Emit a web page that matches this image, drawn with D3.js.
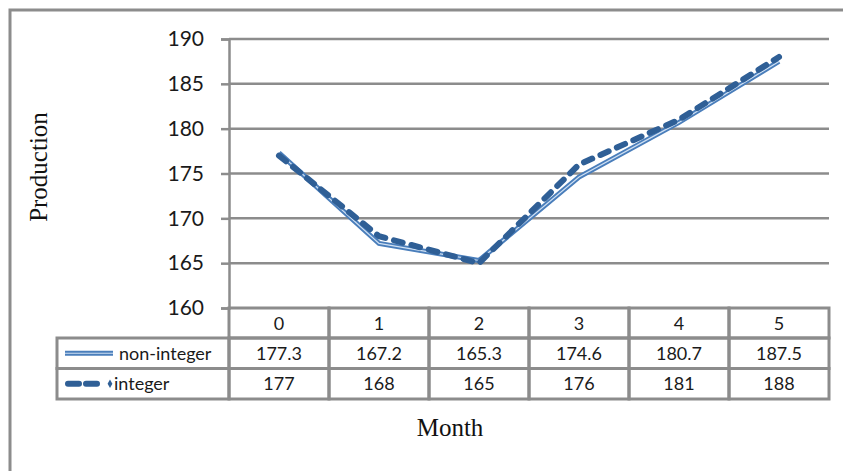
<!DOCTYPE html>
<html>
<head>
<meta charset="utf-8">
<script src="https://cdn.jsdelivr.net/npm/d3@7/dist/d3.min.js"></script>
<style>
  html, body { margin: 0; padding: 0; background: #fff; }
  svg { display: block; }
</style>
</head>
<body>
<script>
// Monthly production, two planning variants
const months = ["0", "1", "2", "3", "4", "5"];
const nonInteger = [177.3, 167.2, 165.3, 174.6, 180.7, 187.5];
const integer = [177, 168, 165, 176, 181, 188];
const yTicks = [160, 165, 170, 175, 180, 185, 190];
const seriesNames = ["non-integer", "integer"];

const W = 843, H = 471;
const svg = d3.select("body").append("svg").attr("width", W).attr("height", H);

const grid = "#8c8c8c";
const sans = "Lato, 'Open Sans', sans-serif";
const serif = "'Liberation Serif', 'DejaVu Serif', serif";

// outer chart frame
svg.append("rect").attr("x", 10).attr("y", 10).attr("width", 860).attr("height", 500)
  .attr("fill", "none").attr("stroke", grid).attr("stroke-width", 3);

const plotLeft = 229, plotRight = 829, plotTop = 39, plotBottom = 308;
const x = d3.scaleBand().domain(months).range([plotLeft, plotRight]);
const y = d3.scaleLinear().domain([160, 190]).range([plotBottom, plotTop]);

// horizontal gridlines
svg.append("g").selectAll("line").data(yTicks.filter(t => t > 160)).join("line")
  .attr("x1", plotLeft).attr("x2", plotRight)
  .attr("y1", d => y(d)).attr("y2", d => y(d))
  .attr("stroke", grid).attr("stroke-width", 2.5);

// y axis
const yAxis = d3.axisLeft(y).tickValues(yTicks).tickSize(8).tickPadding(17).tickFormat(d3.format("d"));
const ya = svg.append("g").attr("transform", `translate(${plotLeft},0)`).call(yAxis);
ya.select(".domain").attr("stroke", grid).attr("stroke-width", 2.5);
ya.selectAll(".tick line").attr("stroke", grid).attr("stroke-width", 2.5);
ya.selectAll(".tick text").attr("font-family", sans).attr("font-size", 21).attr("fill", "#1a1a1a");

// data table
const rowH = [plotBottom, 338, 368.5, 399];
const legendLeft = 57;
const tbl = svg.append("g");
const bw = 3;
const cellFont = 18;
// header row cells
months.forEach(m => {
  tbl.append("rect").attr("x", x(m)).attr("y", rowH[0]).attr("width", x.bandwidth()).attr("height", rowH[1] - rowH[0])
    .attr("fill", "none").attr("stroke", grid).attr("stroke-width", bw);
  tbl.append("text").attr("x", x(m) + x.bandwidth() / 2).attr("y", (rowH[0] + rowH[1]) / 2 + 6.5)
    .attr("text-anchor", "middle").attr("font-family", sans).attr("font-size", cellFont).attr("fill", "#1a1a1a").text(m);
});
const rows = [nonInteger, integer];
rows.forEach((vals, r) => {
  const y0 = rowH[r + 1], y1 = rowH[r + 2];
  tbl.append("rect").attr("x", legendLeft).attr("y", y0).attr("width", plotLeft - legendLeft).attr("height", y1 - y0)
    .attr("fill", "none").attr("stroke", grid).attr("stroke-width", bw);
  months.forEach((m, i) => {
    tbl.append("rect").attr("x", x(m)).attr("y", y0).attr("width", x.bandwidth()).attr("height", y1 - y0)
      .attr("fill", "none").attr("stroke", grid).attr("stroke-width", bw);
    tbl.append("text").attr("x", x(m) + x.bandwidth() / 2).attr("y", (y0 + y1) / 2 + 6.5)
      .attr("text-anchor", "middle").attr("font-family", sans).attr("font-size", cellFont).attr("fill", "#1a1a1a")
      .text(vals[i]);
  });
  tbl.append("text").attr("x", r === 0 ? 119 : 114).attr("y", (y0 + y1) / 2 + 6.5)
    .attr("font-family", sans).attr("font-size", cellFont).attr("fill", "#1a1a1a").text(seriesNames[r]);
});

// series lines
const line = d3.line().x((d, i) => x(months[i]) + x.bandwidth() / 2).y(d => y(d));
const blue = "#4a7ebb", dark = "#2f5f96";

svg.append("path").datum(nonInteger).attr("d", line).attr("fill", "none")
  .attr("stroke", blue).attr("stroke-width", 5).attr("stroke-linejoin", "miter");
svg.append("path").datum(nonInteger).attr("d", line).attr("fill", "none")
  .attr("stroke", "#cfe0f3").attr("stroke-width", 1.2);

svg.append("path").datum(integer).attr("d", line).attr("fill", "none")
  .attr("stroke", dark).attr("stroke-width", 6).attr("stroke-linecap", "round")
  .attr("stroke-dasharray", "9,9");

// legend samples
const lg = svg.append("g");
const ly0 = (rowH[1] + rowH[2]) / 2, ly1 = (rowH[2] + rowH[3]) / 2;
lg.append("line").attr("x1", 65).attr("x2", 113).attr("y1", ly0).attr("y2", ly0)
  .attr("stroke", blue).attr("stroke-width", 5);
lg.append("line").attr("x1", 65).attr("x2", 113).attr("y1", ly0).attr("y2", ly0)
  .attr("stroke", "#cfe0f3").attr("stroke-width", 1.2);
lg.append("line").attr("x1", 68).attr("x2", 103).attr("y1", ly1).attr("y2", ly1)
  .attr("stroke", dark).attr("stroke-width", 6).attr("stroke-linecap", "round")
  .attr("stroke-dasharray", "11,7");
lg.append("path").attr("d", d3.symbol(d3.symbolDiamond, 20)()).attr("transform", `translate(110,${ly1})`)
  .attr("fill", dark);

// axis titles
svg.append("text").attr("transform", "translate(47,167) rotate(-90)").attr("text-anchor", "middle")
  .attr("font-family", serif).attr("font-size", 25).attr("fill", "#111").text("Production");
svg.append("text").attr("x", 450).attr("y", 436).attr("text-anchor", "middle")
  .attr("font-family", serif).attr("font-size", 25).attr("fill", "#111").text("Month");
</script>
</body>
</html>
